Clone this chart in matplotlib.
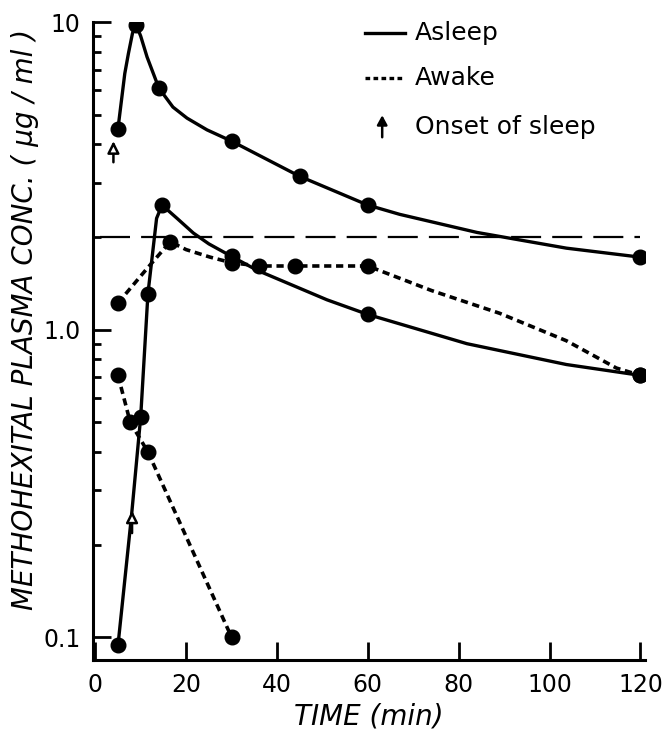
import matplotlib
matplotlib.use("Agg")
import matplotlib.pyplot as plt
from matplotlib.ticker import FixedLocator, NullFormatter

plt.rcParams['font.family'] = ['DejaVu Sans']

# measured points (markers)
asleep_hi_t = [5, 9, 14, 30, 45, 60, 120]
asleep_hi_c = [4.5, 9.8, 6.1, 4.1, 3.15, 2.54, 1.72]
asleep_lo_t = [5, 10, 11.6, 14.7, 30, 60, 120]
asleep_lo_c = [0.094, 0.52, 1.31, 2.54, 1.73, 1.12, 0.71]
awake_hi_t = [5, 16.5, 30, 36, 44, 60, 120]
awake_hi_c = [1.22, 1.93, 1.65, 1.61, 1.61, 1.61, 0.71]
awake_lo_t = [5, 7.7, 11.6, 30]
awake_lo_c = [0.71, 0.50, 0.40, 0.10]

# hand-drawn curve traces
asleep_hi_line_t = [5, 6.5, 7.3, 8.2, 9, 10, 11.4, 14, 17.1, 20.2, 24.6, 30, 45, 60,
                    67, 84, 103.7, 120]
asleep_hi_line_c = [4.5, 6.8, 7.9, 9.2, 9.8, 9.0, 7.7, 6.1, 5.29, 4.87, 4.46, 4.1, 3.15,
                    2.54, 2.37, 2.07, 1.84, 1.72]
asleep_lo_line_t = [5, 8, 10, 11.6, 13.5, 14.7, 18, 21.6, 25, 30, 35.6, 51, 60, 81.8,
                    103.7, 120]
asleep_lo_line_c = [0.094, 0.25, 0.52, 1.31, 2.3, 2.54, 2.3, 2.06, 1.9, 1.73, 1.56, 1.25,
                    1.12, 0.90, 0.77, 0.71]
awake_hi_line_t = [5, 11.4, 16.5, 20, 25.3, 30, 36, 44, 60, 74, 89, 103.7, 114.7, 120]
awake_hi_line_c = [1.22, 1.58, 1.93, 1.82, 1.72, 1.65, 1.61, 1.61, 1.61, 1.34, 1.13, 0.92,
                   0.75, 0.71]

# onset of sleep arrows: (time, base, tip)
onset_t = [4, 8.1]
onset_base = [3.5, 0.218]
onset_tip = [4.1, 0.258]

threshold = 2.0

fig = plt.figure(figsize=(6.67, 7.34), dpi=100)
ax = fig.add_axes([0.1394, 0.1008, 0.8276, 0.8692])

ax.plot(asleep_hi_line_t, asleep_hi_line_c, color='k', lw=2.4)
ax.plot(asleep_lo_line_t, asleep_lo_line_c, color='k', lw=2.4)
ax.plot(awake_hi_line_t, awake_hi_line_c, color='k', lw=2.6, dashes=(2.0, 1.3))
ax.plot(awake_lo_t, awake_lo_c, color='k', lw=2.6, dashes=(2.0, 1.3))

for t, c in [(asleep_hi_t, asleep_hi_c), (asleep_lo_t, asleep_lo_c),
             (awake_hi_t, awake_hi_c), (awake_lo_t, awake_lo_c)]:
    ax.plot(t, c, 'o', color='k', ms=10.5, ls='none')

ax.plot([1, 120], [threshold, threshold], color='k', lw=1.6, dashes=(13.5, 5))

for t, b, tp in zip(onset_t, onset_base, onset_tip):
    ax.annotate('', xy=(t, tp), xytext=(t, b),
                arrowprops=dict(arrowstyle='-|>,head_width=0.35,head_length=0.7',
                                fc='white', ec='k', lw=1.8, shrinkA=0, shrinkB=0))

ax.set_yscale('log')
ax.set_ylim(0.0843, 10)
ax.set_xlim(-0.5, 121)
ax.yaxis.set_major_locator(FixedLocator([0.1, 1, 10]))
ax.set_yticklabels(['0.1', '1.0', '10'])
ax.yaxis.set_minor_locator(FixedLocator([0.2, 0.3, 0.4, 0.5, 0.6, 0.7, 0.8, 0.9,
                                         2, 3, 4, 5, 6, 7, 8, 9]))
ax.yaxis.set_minor_formatter(NullFormatter())
ax.set_xticks([0, 20, 40, 60, 80, 100, 120])
ax.tick_params(axis='both', which='major', direction='in', length=13, width=2,
               labelsize=17, pad=9)
ax.tick_params(axis='y', which='minor', direction='in', length=6, width=2)
ax.spines['top'].set_visible(False)
ax.spines['right'].set_visible(False)
ax.spines['left'].set_linewidth(2.2)
ax.spines['bottom'].set_linewidth(2.2)

ax.set_xlabel('TIME (min)', fontsize=20, style='italic', labelpad=4)
fig.text(0.037, 0.565, 'METHOHEXITAL PLASMA CONC. ( \u00b5g / ml )', rotation=90,
         ha='center', va='center', fontsize=20, style='italic')

# legend drawn by hand
fig.add_artist(plt.Line2D([0.547, 0.607], [0.955, 0.955], color='k', lw=2.4))
fig.text(0.622, 0.955, 'Asleep', fontsize=18, va='center')
fig.add_artist(plt.Line2D([0.547, 0.607], [0.894, 0.894], color='k', lw=2.4,
                          dashes=(1.4, 1.0)))
fig.text(0.622, 0.894, 'Awake', fontsize=18, va='center')
ax.annotate('', xy=(0.573, 0.843), xytext=(0.573, 0.813), xycoords='figure fraction',
            textcoords='figure fraction',
            arrowprops=dict(arrowstyle='-|>,head_width=0.3,head_length=0.55',
                            fc='k', ec='k', lw=1.8, shrinkA=0, shrinkB=0))
fig.text(0.622, 0.827, 'Onset of sleep', fontsize=18, va='center')

fig.savefig('out.png', dpi=100)
